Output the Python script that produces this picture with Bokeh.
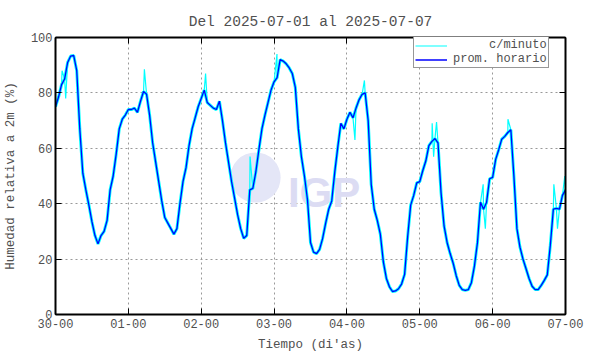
from bokeh.plotting import figure
from bokeh.models import (LinearAxis, FixedTicker, Legend, LegendItem, Label,
                          BoxAnnotation, Range1d)
from bokeh.embed import file_html
from bokeh.resources import INLINE

# ---------------- data ----------------
title_text = "Del 2025-07-01 al 2025-07-07"
x_label = "Tiempo (di'as)"
y_label = "Humedad relativa a 2m (%)"
day_ticks = [0, 1, 2, 3, 4, 5, 6, 7]
day_labels = ["30-00", "01-00", "02-00", "03-00", "04-00", "05-00", "06-00", "07-00"]
y_ticks = [0, 20, 40, 60, 80, 100]

# hourly mean relative humidity (%), one list per day (24 values each)
hum_day0 = [75, 78.5, 83, 85, 91, 93.3, 93.5, 88, 67, 51, 45, 39.5,
            33.5, 28.5, 25.5, 28.5, 30, 34, 45, 50, 58, 67, 70.5, 72]
hum_day1 = [74, 74, 74.5, 73, 77, 80.5, 79.5, 72, 62, 55, 48, 41,
            35, 33, 31, 29, 31, 40, 48, 53, 61, 67, 71, 75]
hum_day2 = [78, 81, 76.5, 75.5, 74.5, 74, 77, 70, 62, 55, 48, 42,
            36, 31, 27.5, 28.5, 45, 45.5, 51.5, 59.5, 67, 72, 76.5, 81]
hum_day3 = [84, 85.5, 92, 91.5, 90.5, 89, 87, 82, 67, 57, 50, 41.5,
            26, 22.5, 22, 23.5, 27.5, 33, 38, 41, 51.5, 60.5, 69, 67]
hum_day4 = [70.5, 73, 71, 74.5, 77.5, 79.5, 80, 70, 47, 38, 34, 29,
            19, 13, 10, 8.3, 8.5, 9.3, 11, 14.5, 28, 39.5, 43, 47.5]
hum_day5 = [48, 52, 55.5, 61, 62.5, 63.5, 62, 44, 32, 26, 22, 18.5,
            14, 10.5, 9, 8.7, 9, 11.5, 17.5, 26, 40.5, 38, 40.5, 49]
hum_day6 = [49.5, 56, 59.5, 63.3, 64.3, 65.7, 66.7, 50, 31, 24.3, 20, 16.5,
            13, 10.2, 9, 9, 10.5, 12.3, 14.3, 25, 38, 38.3, 38, 43]
hum_end = [45]

# visible per-minute excursions (time in days, value %)
spike_t = [0.09, 0.14, 1.22, 2.06, 2.67, 3.04, 4.11, 4.24, 5.17, 5.19,
           5.23, 5.87, 5.90, 6.21, 6.84, 6.89, 6.99]
spike_v = [88, 78, 88.5, 87, 57, 94, 63, 84.5, 69, 57,
           69.5, 47, 31, 70.5, 47, 31, 50]

legend_labels = ["c/minuto", "prom. horario"]

# ---------------- build series ----------------
hum_hourly = (hum_day0 + hum_day1 + hum_day2 + hum_day3 +
              hum_day4 + hum_day5 + hum_day6 + hum_end)
t_hourly = [h / 24.0 for h in range(len(hum_hourly))]

merged = sorted(list(zip(t_hourly, hum_hourly)) + list(zip(spike_t, spike_v)))
t_min = [a for a, _ in merged]
v_min = [b for _, b in merged]

TXT = "#505050"
FONT = "Liberation Mono"
CYAN = "#00ffff"
BLUE = "#0000ff"

p = figure(width=590, height=354, x_range=Range1d(0, 7), y_range=Range1d(0, 100),
           output_backend="svg", toolbar_location=None,
           min_border_left=54, min_border_right=25, min_border_top=37,
           min_border_bottom=40, background_fill_color="white",
           border_fill_color="white")

p.title.text = title_text
p.title.align = "center"
p.title.text_font = FONT
p.title.text_font_size = "14.5px"
p.title.text_font_style = "normal"
p.title.text_color = TXT
p.title.standoff = 16

# watermark
globe = BoxAnnotation(left=2.40, right=3.09, bottom=40.4, top=58.5, border_radius=25,
                      fill_color="#e4e6f7", fill_alpha=1, line_color=None, level="underlay")
p.add_layout(globe)
igp = Label(x=3.19, y=44, text="IGP", text_font="Liberation Sans", text_font_style="bold",
            text_font_size="42px", text_color="#dcdcf3", text_baseline="alphabetic",
            level="underlay")
p.add_layout(igp)

# data lines: cyan halo + thin per-minute trace, then hourly mean
p.line(t_hourly, hum_hourly, line_color=CYAN, line_width=3)
r_min = p.line(t_min, v_min, line_color=CYAN, line_width=1.2)
r_hour = p.line(t_hourly, hum_hourly, line_color=BLUE, line_width=1.3)

legend = Legend(items=[LegendItem(label="\u00a0" * 5 + legend_labels[0], renderers=[r_min]),
                       LegendItem(label=legend_labels[1], renderers=[r_hour])],
                location=(358, 246), glyph_width=32, glyph_height=11, label_standoff=6,
                padding=1, spacing=0, label_height=11, margin=0,
                border_line_color="#303030", border_line_width=1,
                background_fill_color="white", background_fill_alpha=1,
                label_text_font=FONT, label_text_font_size="12px", label_text_color=TXT)
p.add_layout(legend)

# grid
p.grid.grid_line_dash = "2 3"
p.grid.grid_line_color = "#999999"
p.grid.grid_line_width = 1
p.xgrid.ticker = FixedTicker(ticks=day_ticks)
p.ygrid.ticker = FixedTicker(ticks=y_ticks)


def style_axis(ax, labels=True):
    ax.axis_line_color = "black"
    ax.axis_line_width = 2
    ax.major_tick_in = 6
    ax.major_tick_out = 0
    ax.major_tick_line_color = "black"
    ax.major_tick_line_width = 1
    ax.minor_tick_line_color = None
    ax.major_label_text_font = FONT
    ax.major_label_text_font_size = "12px" if labels else "0px"
    ax.major_label_text_color = TXT
    ax.axis_label_text_font = FONT
    ax.axis_label_text_font_size = "12.5px"
    ax.axis_label_text_font_style = "normal"
    ax.axis_label_text_color = TXT


xb = p.xaxis[0]
xb.ticker = FixedTicker(ticks=day_ticks)
xb.major_label_overrides = {t: lab for t, lab in zip(day_ticks, day_labels)}
xb.axis_label = x_label
style_axis(xb)
xb.major_label_standoff = 4
xb.axis_label_standoff = 7

yl = p.yaxis[0]
yl.ticker = FixedTicker(ticks=y_ticks)
yl.axis_label = y_label
style_axis(yl)
yl.major_label_standoff = 3
yl.axis_label_standoff = 10

xt = LinearAxis(ticker=FixedTicker(ticks=day_ticks),
                major_label_overrides={t: "" for t in day_ticks})
style_axis(xt, labels=False)
xt.major_label_standoff = 0
p.add_layout(xt, "above")

yr = LinearAxis(ticker=FixedTicker(ticks=y_ticks),
                major_label_overrides={t: "" for t in y_ticks})
style_axis(yr, labels=False)
yr.major_label_standoff = 0
p.add_layout(yr, "right")

p.outline_line_color = "black"
p.outline_line_width = 1

open("out.html", "w").write(file_html(p, INLINE))
